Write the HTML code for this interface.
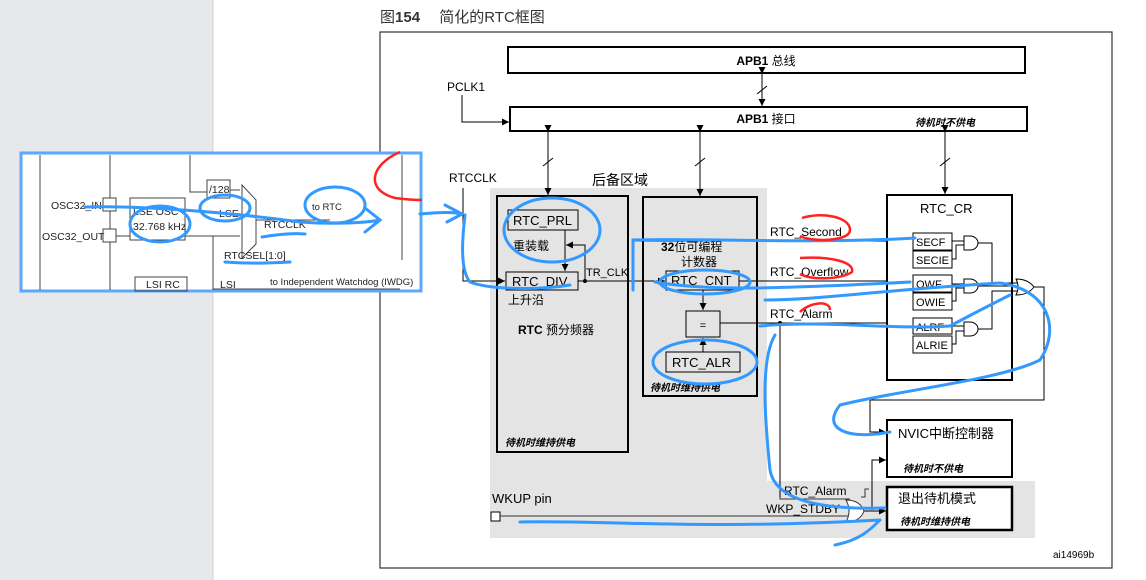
<!DOCTYPE html>
<html><head><meta charset="utf-8"><style>
html,body{margin:0;padding:0;background:#fff;}
svg{display:block;font-family:"Liberation Sans","Noto Sans CJK SC",sans-serif;}
.i{font-style:italic;font-weight:bold;font-size:10px;}
</style></head><body>
<svg width="1146" height="580" viewBox="0 0 1146 580" xmlns="http://www.w3.org/2000/svg">
<defs>
<marker id="a" viewBox="0 0 10 10" refX="10" refY="5" markerWidth="7" markerHeight="7" orient="auto"><path d="M0,0L10,5L0,10z" fill="#000"/></marker>
</defs>
<rect x="0" y="0" width="213" height="580" fill="#e6e8eb"/>
<line x1="213" y1="0" x2="213" y2="580" stroke="#d0d0d0"/>
<text x="380" y="22" font-size="15" fill="#333">图<tspan font-weight="bold">154</tspan>　 简化的RTC框图</text>
<rect x="380" y="32" width="732" height="536" fill="#fff" stroke="#333" stroke-width="1.2"/>
<path d="M490,188H767V481H1035V538H490Z" fill="#e4e4e4"/>
<rect x="508" y="47" width="517" height="26" fill="#fff" stroke="#000" stroke-width="2"/>
<text x="766" y="65" font-size="12" font-weight="bold" text-anchor="middle">APB1 <tspan font-weight="normal">总线</tspan></text>
<rect x="510" y="107" width="517" height="24" fill="#fff" stroke="#000" stroke-width="2"/>
<text x="766" y="123" font-size="12" font-weight="bold" text-anchor="middle">APB1 <tspan font-weight="normal">接口</tspan></text>
<text x="915" y="126" class="i">待机时不供电</text>
<g stroke="#000" fill="none">
<line x1="762" y1="74" x2="762" y2="106" marker-end="url(#a)" marker-start="url(#a)"/>
<line x1="757" y1="94" x2="767" y2="86"/>
<text x="447" y="91" font-size="12" stroke="none" fill="#000">PCLK1</text>
<path d="M462,95V122H509" marker-end="url(#a)"/>
<line x1="548" y1="132" x2="548" y2="195" marker-end="url(#a)" marker-start="url(#a)"/>
<line x1="543" y1="166" x2="553" y2="158"/>
<line x1="700" y1="132" x2="700" y2="196" marker-end="url(#a)" marker-start="url(#a)"/>
<line x1="695" y1="166" x2="705" y2="158"/>
<line x1="945" y1="132" x2="945" y2="194" marker-end="url(#a)" marker-start="url(#a)"/>
<line x1="940" y1="166" x2="950" y2="158"/>
</g>
<text x="449" y="182" font-size="12">RTCCLK</text>
<text x="592" y="185" font-size="14">后备区域</text>
<rect x="497" y="196" width="131" height="256" fill="none" stroke="#000" stroke-width="2"/>
<rect x="508" y="210" width="70" height="20" fill="#e4e4e4" stroke="#000"/>
<text x="513" y="225" font-size="13">RTC_PRL</text>
<text x="513" y="250" font-size="12">重装载</text>
<rect x="506" y="272" width="72" height="18" fill="#e4e4e4" stroke="#000"/>
<text x="512" y="286" font-size="13">RTC_DIV</text>
<text x="508" y="304" font-size="12">上升沿</text>
<text x="518" y="334" font-size="12" font-weight="bold">RTC <tspan font-weight="normal">预分频器</tspan></text>
<text x="505" y="446" class="i">待机时维持供电</text>
<g stroke="#000" fill="none">
<line x1="565" y1="230" x2="565" y2="271" marker-end="url(#a)"/>
<path d="M585,281V245H566" marker-end="url(#a)"/>
<path d="M463,188V281H505" marker-end="url(#a)"/>
<line x1="578" y1="281" x2="665" y2="281" marker-end="url(#a)"/>
<path d="M633,281V241H912" marker-end="url(#a)"/>
<line x1="739" y1="281" x2="912" y2="281" marker-end="url(#a)"/>
<line x1="703" y1="290" x2="703" y2="310" marker-end="url(#a)"/>
<line x1="703" y1="352" x2="703" y2="338" marker-end="url(#a)"/>
<line x1="720" y1="323" x2="912" y2="323" marker-end="url(#a)"/>
<path d="M780,323V497"/>
</g>
<circle cx="585" cy="281" r="2"/>
<circle cx="780" cy="323" r="2"/>
<text x="586" y="276" font-size="11">TR_CLK</text>
<rect x="643" y="197" width="114" height="199" fill="none" stroke="#000" stroke-width="2"/>
<text x="661" y="251" font-size="12" font-weight="bold">32<tspan font-weight="normal">位可编程</tspan></text>
<text x="681" y="266" font-size="12">计数器</text>
<rect x="666" y="271" width="73" height="19" fill="#e4e4e4" stroke="#000"/>
<text x="671" y="285" font-size="13">RTC_CNT</text>
<rect x="686" y="311" width="34" height="26" fill="#e4e4e4" stroke="#000"/>
<text x="703" y="329" font-size="11" text-anchor="middle">=</text>
<rect x="666" y="352" width="74" height="20" fill="#e4e4e4" stroke="#000"/>
<text x="672" y="367" font-size="13">RTC_ALR</text>
<text x="650" y="391" class="i">待机时维持供电</text>
<text x="770" y="236" font-size="12">RTC_Second</text>
<text x="770" y="276" font-size="12">RTC_Overflow</text>
<text x="770" y="318" font-size="12">RTC_Alarm</text>
<rect x="887" y="195" width="125" height="185" fill="#fff" stroke="#000" stroke-width="2"/>
<text x="920" y="213" font-size="13">RTC_CR</text>
<g font-size="11" stroke="#000">
<rect x="913" y="233" width="39" height="17" fill="#fff"/><rect x="913" y="251" width="39" height="17" fill="#fff"/>
<rect x="913" y="275" width="39" height="17" fill="#fff"/><rect x="913" y="293" width="39" height="17" fill="#fff"/>
<rect x="913" y="318" width="39" height="16" fill="#fff"/><rect x="913" y="336" width="39" height="17" fill="#fff"/>
</g>
<g font-size="11"><text x="916" y="246">SECF</text><text x="916" y="264">SECIE</text><text x="916" y="288">OWF</text><text x="916" y="306">OWIE</text><text x="916" y="331">ALRF</text><text x="916" y="349">ALRIE</text></g>
<g stroke="#000" fill="#fff">
<path d="M964,236h6a8,7 0 0 1 0,14h-6z"/>
<path d="M964,279h6a8,7 0 0 1 0,14h-6z"/>
<path d="M964,322h6a8,7 0 0 1 0,14h-6z"/>
<path d="M1016,279q12,0 18,8q-6,8 -18,8q4,-8 0,-16z"/>
<g fill="none">
<path d="M952,241h12M952,259h4v-14h8M952,284h12M952,301h4v-13h8M952,326h12M952,344h4v-13h8"/>
<path d="M978,243h14v40h26M978,286h40M978,329h14v-38h26"/>
<path d="M1034,287h10V400H870V432h16" marker-end="url(#a)"/>
<path d="M872,510V460h14" marker-end="url(#a)"/>
<path d="M862,511h24" marker-end="url(#a)"/>
</g>
</g>
<rect x="887" y="420" width="125" height="57" fill="#fff" stroke="#000" stroke-width="2"/>
<text x="898" y="438" font-size="13">NVIC中断控制器</text>
<text x="903" y="472" class="i">待机时不供电</text>
<rect x="887" y="487" width="125" height="43" fill="#fff" stroke="#000" stroke-width="2.5"/>
<text x="898" y="503" font-size="13">退出待机模式</text>
<text x="900" y="525" class="i">待机时维持供电</text>
<text x="492" y="503" font-size="13">WKUP pin</text>
<rect x="491" y="512" width="9" height="9" fill="#fff" stroke="#000"/>
<g stroke="#333" fill="none">
<path d="M500,516H850"/>
<path d="M780,497V499H850M861,497h4v-8h4"/>
<path d="M846,500q14,0 18,11q-4,11 -18,11q6,-11 0,-22z" fill="#fff"/>
</g>
<text x="784" y="495" font-size="12">RTC_Alarm</text>
<text x="766" y="513" font-size="12">WKP_STDBY</text>
<text x="1053" y="558" font-size="10">ai14969b</text>
<rect x="21" y="153" width="400" height="138" fill="#fff" stroke="#5aa8ff" stroke-width="3"/>
<g stroke="#444" fill="none">
<line x1="40" y1="155" x2="40" y2="290"/><line x1="110" y1="155" x2="110" y2="290"/>
<rect x="103" y="198" width="13" height="13" fill="#fff"/><rect x="103" y="229" width="13" height="13" fill="#fff"/>
<line x1="116" y1="236" x2="130" y2="236"/>
<rect x="130" y="198" width="55" height="42"/>
<rect x="207" y="180" width="23" height="18"/>
<path d="M190,155V192H207M230,190h10M213,236V290M185,236h55"/>
<path d="M242,185L256,200V244L242,258Z"/>
<line x1="256" y1="220" x2="330" y2="220"/>
<line x1="213" y1="289" x2="400" y2="289"/>
<line x1="402" y1="155" x2="402" y2="260"/>
<rect x="135" y="277" width="52" height="14"/>
</g>
<g font-size="10.5" fill="#222">
<text x="51" y="209">OSC32_IN</text><text x="42" y="240">OSC32_OUT</text>
<text x="133" y="215">LSE OSC</text><text x="133" y="230">32.768 kHz</text>
<text x="209" y="193">/128</text><text x="219" y="217">LSE</text>
<text x="264" y="228">RTCCLK</text><text x="312" y="210" font-size="9.5">to RTC</text>
<text x="224" y="259">RTCSEL[1:0]</text><text x="220" y="288">LSI</text>
<text x="270" y="285" font-size="9.5">to Independent Watchdog (IWDG)</text><text x="146" y="288">LSI RC</text>
</g>
<g stroke="#3399ff" stroke-width="3" fill="none" stroke-linecap="round">
<path d="M85,207C150,205 250,215 300,222 340,225 370,222 380,220M365,208L380,220 365,232"/>
<path d="M420,214C440,212 455,212 462,214M445,205L462,214 447,222"/>
<ellipse cx="160" cy="224" rx="30" ry="18"/><ellipse cx="225" cy="208" rx="25" ry="13"/><ellipse cx="335" cy="205" rx="30" ry="18"/>
<path d="M262,237C280,234 295,233 305,234M225,262C250,264 270,263 290,262"/>
<path d="M465,215C462,240 460,270 470,282 490,290 540,290 570,285"/>
<ellipse cx="552" cy="230" rx="48" ry="32"/>
<path d="M633,290V240C700,238 820,244 915,238M655,282C700,290 760,290 910,282"/>
<ellipse cx="705" cy="282" rx="45" ry="12"/><ellipse cx="705" cy="362" rx="52" ry="22"/>
<path d="M765,300C820,300 880,290 1000,283 1050,290 1060,330 1040,360 1000,380 900,390 840,405 820,430 850,440 890,432"/>
<path d="M775,335C760,360 765,420 770,470 775,500 820,510 885,508"/>
<path d="M760,326C820,320 900,330 950,326 980,310 1000,300 1010,295"/>
<path d="M520,522C600,520 700,530 880,520M835,545C860,540 870,530 880,520"/>
</g>
<g stroke="#ff2222" stroke-width="2.5" fill="none">
<path d="M802,218C820,212 850,216 850,230 850,242 810,242 800,236"/>
<path d="M800,258C830,256 855,262 852,272 840,280 810,280 800,274"/>
<path d="M800,312C810,302 830,300 830,310"/>
<path d="M400,152C370,165 365,190 395,198 410,200 420,200 422,200"/>
</g>
</svg>
</body></html>
